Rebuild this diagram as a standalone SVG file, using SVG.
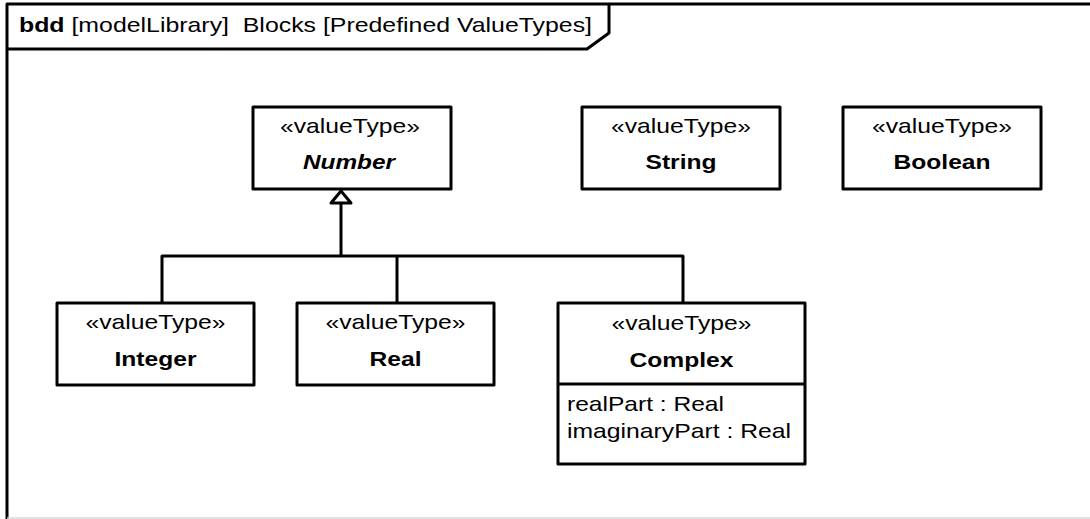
<svg xmlns="http://www.w3.org/2000/svg" width="1090" height="519" viewBox="0 0 1090 519">
<style>
  .box { fill: #fff; stroke: #000; stroke-width: 3; stroke-linejoin: round; }
  .ln { fill: none; stroke: #000; stroke-width: 3; stroke-linejoin: round; }
  text { font-family: "Liberation Sans", Arial, sans-serif; font-size: 21px; fill: #000; }
  .st { text-anchor: middle; }
  .nm { text-anchor: middle; font-weight: bold; }
  .it { font-style: italic; }
</style>
<rect x="0" y="0" width="1090" height="519" fill="#fff"/>
<g id="frame">
  <path class="ln" d="M7,519 V4 H1090"/>
  <line x1="7" y1="518" x2="1090" y2="518" stroke="#d8d8d8" stroke-width="1.5"/>
  <path class="ln" d="M7,49 H587 L609,33 V4"/>
  <text x="19" y="32" textLength="573" lengthAdjust="spacingAndGlyphs"><tspan font-weight="bold">bdd</tspan> [modelLibrary]&#160; Blocks [Predefined ValueTypes]</text>
</g>
<g id="connectors">
  <path class="ln" d="M162,303 V256 H683 V303"/>
  <path class="ln" d="M397,256 V303"/>
  <path class="ln" d="M341,256 V204"/>
  <path d="M341,191 L351,203 L331,203 Z" fill="#fff" stroke="#000" stroke-width="3" stroke-linejoin="round"/>
</g>
<g id="Number">
  <rect class="box" x="253" y="107" width="198" height="82"/>
  <text class="st" x="350" y="133" textLength="140" lengthAdjust="spacingAndGlyphs">«valueType»</text>
  <text class="nm it" x="349" y="169" textLength="92" lengthAdjust="spacingAndGlyphs">Number</text>
</g>
<g id="String">
  <rect class="box" x="582" y="107" width="198" height="82"/>
  <text class="st" x="681" y="133" textLength="140" lengthAdjust="spacingAndGlyphs">«valueType»</text>
  <text class="nm" x="681" y="169" textLength="71" lengthAdjust="spacingAndGlyphs">String</text>
</g>
<g id="Boolean">
  <rect class="box" x="843" y="107" width="198" height="82"/>
  <text class="st" x="942" y="133" textLength="140" lengthAdjust="spacingAndGlyphs">«valueType»</text>
  <text class="nm" x="942" y="169" textLength="97" lengthAdjust="spacingAndGlyphs">Boolean</text>
</g>
<g id="Integer">
  <rect class="box" x="57" y="303" width="197" height="82"/>
  <text class="st" x="155.5" y="329" textLength="140" lengthAdjust="spacingAndGlyphs">«valueType»</text>
  <text class="nm" x="155.5" y="366" textLength="82" lengthAdjust="spacingAndGlyphs">Integer</text>
</g>
<g id="Real">
  <rect class="box" x="297" y="303" width="197" height="82"/>
  <text class="st" x="395.5" y="329" textLength="140" lengthAdjust="spacingAndGlyphs">«valueType»</text>
  <text class="nm" x="395.5" y="366" textLength="52" lengthAdjust="spacingAndGlyphs">Real</text>
</g>
<g id="Complex">
  <rect class="box" x="558" y="303" width="247" height="161"/>
  <line class="ln" x1="558" y1="384" x2="805" y2="384"/>
  <text class="st" x="681.5" y="330" textLength="140" lengthAdjust="spacingAndGlyphs">«valueType»</text>
  <text class="nm" x="681.5" y="367" textLength="104" lengthAdjust="spacingAndGlyphs">Complex</text>
  <text x="567" y="411" textLength="157" lengthAdjust="spacingAndGlyphs">realPart : Real</text>
  <text x="567" y="438" textLength="224" lengthAdjust="spacingAndGlyphs">imaginaryPart : Real</text>
</g>
</svg>
